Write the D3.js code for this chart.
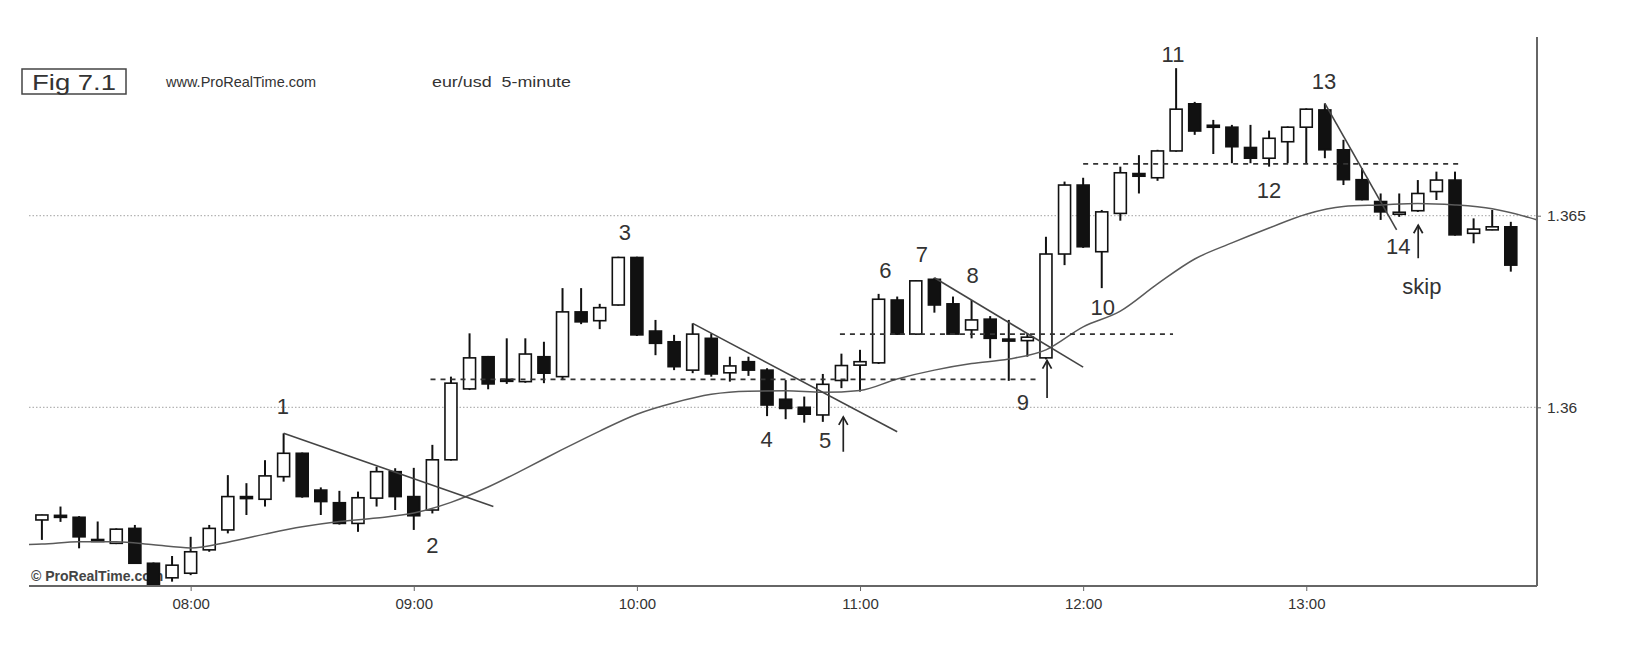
<!DOCTYPE html>
<html><head><meta charset="utf-8">
<script src="https://cdn.jsdelivr.net/npm/d3@7"></script>
<style>
html,body{margin:0;padding:0;background:#fff;}
svg{display:block;}
text{font-family:"Liberation Sans",Arial,Helvetica,sans-serif;}
</style>
</head><body>
<svg id="chart" width="1642" height="647"></svg>
<script>
// ---------- DATA ----------
const times = ["07:20","07:25","07:30","07:35","07:40","07:45","07:50","07:55",
"08:00","08:05","08:10","08:15","08:20","08:25","08:30","08:35","08:40","08:45","08:50","08:55",
"09:00","09:05","09:10","09:15","09:20","09:25","09:30","09:35","09:40","09:45","09:50","09:55",
"10:00","10:05","10:10","10:15","10:20","10:25","10:30","10:35","10:40","10:45","10:50","10:55",
"11:00","11:05","11:10","11:15","11:20","11:25","11:30","11:35","11:40","11:45","11:50","11:55",
"12:00","12:05","12:10","12:15","12:20","12:25","12:30","12:35","12:40","12:45","12:50","12:55",
"13:00","13:05","13:10","13:15","13:20","13:25","13:30","13:35","13:40","13:45","13:50","13:55"];

const open = [1.35706,1.35718,1.35713,1.35655,1.35645,1.35684,1.35593,1.35555,
1.35567,1.35628,1.35680,1.35767,1.35760,1.35819,1.35880,1.35784,1.35751,1.35697,1.35763,1.35832,
1.35767,1.35732,1.35863,1.36048,1.36132,1.36073,1.36067,1.36132,1.36080,1.36249,1.36226,1.36267,
1.36391,1.36199,1.36171,1.36097,1.36180,1.36090,1.36119,1.36097,1.36021,1.36000,1.35980,1.36070,
1.36110,1.36116,1.36280,1.36191,1.36334,1.36270,1.36202,1.36230,1.36178,1.36174,1.36129,1.36400,
1.36580,1.36406,1.36506,1.36610,1.36599,1.36669,1.36792,1.36736,1.36731,1.36678,1.36650,1.36693,
1.36731,1.36776,1.36672,1.36594,1.36537,1.36504,1.36513,1.36563,1.36593,1.36454,1.36463,1.36471];

const high = [1.35720,1.35741,1.35716,1.35702,1.35684,1.35693,1.35595,1.35612,
1.35662,1.35693,1.35823,1.35802,1.35862,1.35932,1.35882,1.35791,1.35782,1.35780,1.35845,1.35841,
1.35842,1.35902,1.36080,1.36193,1.36134,1.36180,1.36180,1.36171,1.36311,1.36311,1.36270,1.36393,
1.36393,1.36228,1.36189,1.36219,1.36193,1.36132,1.36132,1.36102,1.36071,1.36028,1.36087,1.36140,
1.36150,1.36296,1.36289,1.36332,1.36338,1.36289,1.36280,1.36238,1.36228,1.36193,1.36445,1.36589,
1.36599,1.36515,1.36628,1.36658,1.36672,1.36885,1.36797,1.36750,1.36737,1.36737,1.36722,1.36733,
1.36780,1.36793,1.36698,1.36624,1.36558,1.36558,1.36593,1.36615,1.36615,1.36493,1.36515,1.36484];

const low = [1.35654,1.35701,1.35632,1.35650,1.35643,1.35591,1.35534,1.35545,
1.35562,1.35623,1.35671,1.35719,1.35741,1.35806,1.35764,1.35719,1.35694,1.35675,1.35741,1.35732,
1.35680,1.35723,1.35861,1.36045,1.36047,1.36061,1.36064,1.36063,1.36071,1.36217,1.36204,1.36265,
1.36186,1.36136,1.36097,1.36089,1.36080,1.36067,1.36082,1.35977,1.35969,1.35960,1.35962,1.36050,
1.36041,1.36113,1.36189,1.36189,1.36247,1.36189,1.36180,1.36128,1.36069,1.36132,1.36125,1.36371,
1.36416,1.36311,1.36487,1.36558,1.36591,1.36667,1.36711,1.36661,1.36637,1.36637,1.36628,1.36637,
1.36637,1.36650,1.36580,1.36540,1.36489,1.36497,1.36510,1.36541,1.36448,1.36428,1.36462,1.36354];

const close = [1.35719,1.35715,1.35662,1.35653,1.35682,1.35593,1.35535,1.35588,
1.35623,1.35684,1.35767,1.35763,1.35821,1.35880,1.35767,1.35754,1.35697,1.35764,1.35832,1.35767,
1.35717,1.35863,1.36063,1.36129,1.36061,1.36070,1.36139,1.36089,1.36249,1.36223,1.36260,1.36391,
1.36189,1.36167,1.36106,1.36191,1.36087,1.36108,1.36097,1.36006,1.35997,1.35982,1.36060,1.36109,
1.36119,1.36282,1.36191,1.36330,1.36267,1.36191,1.36228,1.36180,1.36176,1.36183,1.36400,1.36580,
1.36419,1.36510,1.36612,1.36603,1.36669,1.36778,1.36721,1.36732,1.36680,1.36650,1.36702,1.36731,
1.36778,1.36672,1.36594,1.36542,1.36510,1.36509,1.36558,1.36593,1.36450,1.36465,1.36471,1.36371];

// moving average
const maTimes = ["07:15","07:20","07:30","07:40","07:50","08:00","08:10","08:20","08:30","08:40","08:50",
"09:00","09:10","09:20","09:30","09:40","09:50","10:00","10:10","10:20","10:30","10:40","10:50",
"11:00","11:10","11:20","11:30","11:40","11:50","12:00","12:10","12:20","12:30","12:40","12:50",
"13:00","13:10","13:20","13:30","13:40","13:50","14:00","14:05"];
const maValues = [1.35642,1.35643,1.35649,1.35649,1.35641,1.35633,1.35648,1.35669,1.35688,1.35702,1.35711,
1.35724,1.35752,1.35792,1.35840,1.35890,1.35938,1.35982,1.36012,1.36034,1.36042,1.36043,1.36039,
1.36044,1.36074,1.36097,1.36114,1.36126,1.36150,1.36210,1.36251,1.36322,1.36387,1.36429,1.36468,
1.36504,1.36524,1.36528,1.36532,1.36528,1.36518,1.36495,1.36480];

const priceTicks = [1.36, 1.365];
const priceTickLabels = ["1.36", "1.365"];

// trend lines: start time/price, end time/price
const trendStartTimes = ["08:25","10:15","11:20","13:05"];
const trendStartPrices = [1.35932,1.36219,1.36338,1.36793];
const trendEndTimes = ["09:21:24","11:10","12:00","13:24:18"];
const trendEndPrices = [1.35741,1.35936,1.36105,1.36463];

// dashed horizontal levels
const levelStartTimes = ["09:04:30","10:54:36","12:00"];
const levelEndTimes = ["11:48:30","12:24:10","13:40:57"];
const levelPrices = [1.36073,1.36191,1.36635];

// numbered annotations (text, time, baseline price)
const noteTexts = ["1","2","3","4","5","6","7","8","9","10","11","12","13","14","skip"];
const noteTimes = ["08:24:50","09:05","09:56:48","10:34:54","10:50:36","11:06:50","11:16:36","11:30:18",
"11:43:48","12:05:15","12:24:10","12:50","13:04:45","13:24:45","13:31:06"];
const notePrices = [1.35983,1.35620,1.36437,1.35897,1.35894,1.36337,1.36379,1.36325,
1.35993,1.36242,1.36901,1.36547,1.36830,1.36401,1.36296];

// up arrows (time, top price, bottom price)
const arrowTimes = ["10:55:30","11:50:18","13:30:06"];
const arrowTops = [1.35975,1.36122,1.36475];
const arrowBottoms = [1.35884,1.36024,1.36389];

const figLabel = "Fig 7.1";
const sourceText = "www.ProRealTime.com";
const seriesText = "eur/usd  5-minute";
const copyrightText = "© ProRealTime.com";

// ---------- LAYOUT ----------
const plotLeft = 29, plotRight = 1537, plotTop = 37, plotBottom = 586;
const parse = s => d3.timeParse(s.length > 5 ? "%H:%M:%S" : "%H:%M")(s);

const x = d3.scaleTime()
  .domain([parse(times[0]), parse(times[times.length - 1])])
  .range([41.9, 1510.8]);
const y = d3.scaleLinear()
  .domain([1.36, 1.365])
  .range([407.3, 215.7]);

const svg = d3.select("#chart");
svg.append("rect").attr("width", 1642).attr("height", 647).attr("fill", "#fff");

svg.append("defs").append("clipPath").attr("id", "plotclip")
  .append("rect").attr("x", plotLeft).attr("y", plotTop)
  .attr("width", plotRight - plotLeft).attr("height", plotBottom - plotTop);

// grid lines
svg.append("g").selectAll("line").data(priceTicks).join("line")
  .attr("x1", plotLeft).attr("x2", plotRight)
  .attr("y1", d => y(d)).attr("y2", d => y(d))
  .attr("stroke", "#b4b4b4").attr("stroke-width", 1.3).attr("stroke-dasharray", "1.5,2");

// header
const head = svg.append("g");
head.append("rect").attr("x", 22).attr("y", 69).attr("width", 104).attr("height", 25)
  .attr("fill", "none").attr("stroke", "#444").attr("stroke-width", 1.5);
head.append("text").attr("x", 74).attr("y", 89.5).attr("text-anchor", "middle")
  .attr("font-size", 22).attr("fill", "#333")
  .attr("textLength", 84).attr("lengthAdjust", "spacingAndGlyphs").text(figLabel);
head.append("text").attr("x", 166).attr("y", 87).attr("font-size", 14.5)
  .attr("fill", "#333").text(sourceText);
head.append("text").attr("x", 432).attr("y", 87).attr("font-size", 15)
  .attr("fill", "#333").attr("xml:space", "preserve")
  .attr("textLength", 139).attr("lengthAdjust", "spacingAndGlyphs").text(seriesText);

// copyright
svg.append("text").attr("x", 31).attr("y", 581).attr("font-size", 14)
  .attr("font-weight", "bold").attr("fill", "#444").text(copyrightText);

// candles
const candles = times.map((t, i) => ({t: parse(t), o: open[i], h: high[i], l: low[i], c: close[i]}));
const bodyW = 12;
const cg = svg.append("g").attr("clip-path", "url(#plotclip)");
const cs = cg.selectAll("g").data(candles).join("g");
cs.append("line")
  .attr("x1", d => x(d.t)).attr("x2", d => x(d.t))
  .attr("y1", d => y(d.h)).attr("y2", d => y(d.l))
  .attr("stroke", "#111").attr("stroke-width", 2);
cs.append("rect")
  .attr("x", d => x(d.t) - bodyW / 2)
  .attr("width", bodyW)
  .attr("y", d => y(Math.max(d.o, d.c)))
  .attr("height", d => Math.max(2, Math.abs(y(d.o) - y(d.c))))
  .attr("fill", d => d.c >= d.o ? "#fff" : "#111")
  .attr("stroke", "#111").attr("stroke-width", 1.6);

// lines group (clipped)
const lg = svg.append("g").attr("clip-path", "url(#plotclip)");

// moving average
const maPts = maTimes.map((t, i) => [parse(t), maValues[i]]);
lg.append("path").datum(maPts)
  .attr("d", d3.line().x(d => x(d[0])).y(d => y(d[1])).curve(d3.curveMonotoneX))
  .attr("fill", "none").attr("stroke", "#5a5a5a").attr("stroke-width", 1.5);

// dashed levels
lg.selectAll("line.level").data(levelPrices).join("line").attr("class", "level")
  .attr("x1", (d, i) => x(parse(levelStartTimes[i])))
  .attr("x2", (d, i) => x(parse(levelEndTimes[i])))
  .attr("y1", d => y(d)).attr("y2", d => y(d))
  .attr("stroke", "#333").attr("stroke-width", 1.8).attr("stroke-dasharray", "5,5");

// trend lines
lg.selectAll("line.trend").data(trendStartTimes).join("line").attr("class", "trend")
  .attr("x1", d => x(parse(d)))
  .attr("y1", (d, i) => y(trendStartPrices[i]))
  .attr("x2", (d, i) => x(parse(trendEndTimes[i])))
  .attr("y2", (d, i) => y(trendEndPrices[i]))
  .attr("stroke", "#444").attr("stroke-width", 1.6);

// annotations
svg.append("g").selectAll("text").data(noteTexts).join("text")
  .attr("x", (d, i) => x(parse(noteTimes[i])))
  .attr("y", (d, i) => y(notePrices[i]))
  .attr("text-anchor", "middle").attr("font-size", 22).attr("fill", "#333")
  .text(d => d);

// arrows
const ag = svg.append("g").attr("stroke", "#222").attr("stroke-width", 1.7).attr("fill", "none");
arrowTimes.forEach((t, i) => {
  const ax = x(parse(t)), yt = y(arrowTops[i]), yb = y(arrowBottoms[i]);
  ag.append("line").attr("x1", ax).attr("x2", ax).attr("y1", yt).attr("y2", yb);
  ag.append("path").attr("d", `M${ax - 4.5},${yt + 8} L${ax},${yt} L${ax + 4.5},${yt + 8}`);
});

// axes
const xAxis = d3.axisBottom(x).ticks(d3.timeHour.every(1))
  .tickFormat(d3.timeFormat("%H:%M")).tickSize(5).tickPadding(7);
const gx = svg.append("g").attr("transform", `translate(0,${plotBottom})`).call(xAxis);
gx.select(".domain").remove();
gx.selectAll(".tick line").attr("stroke", "#666");
gx.selectAll(".tick text").attr("font-size", 15).attr("fill", "#333")
  .attr("font-family", "'Liberation Sans',Arial,sans-serif");

const yAxis = d3.axisRight(y).tickValues(priceTicks)
  .tickFormat((d, i) => priceTickLabels[i]).tickSize(4).tickPadding(6);
const gy = svg.append("g").attr("transform", `translate(${plotRight},0)`).call(yAxis);
gy.select(".domain").remove();
gy.selectAll(".tick line").attr("stroke", "#666");
gy.selectAll(".tick text").attr("font-size", 15.5).attr("fill", "#333")
  .attr("font-family", "'Liberation Sans',Arial,sans-serif");

svg.append("line").attr("x1", plotLeft).attr("x2", plotRight)
  .attr("y1", plotBottom).attr("y2", plotBottom)
  .attr("stroke", "#666").attr("stroke-width", 2.2);
svg.append("line").attr("x1", plotRight).attr("x2", plotRight)
  .attr("y1", plotTop).attr("y2", plotBottom)
  .attr("stroke", "#666").attr("stroke-width", 2);
</script>
</body></html>
